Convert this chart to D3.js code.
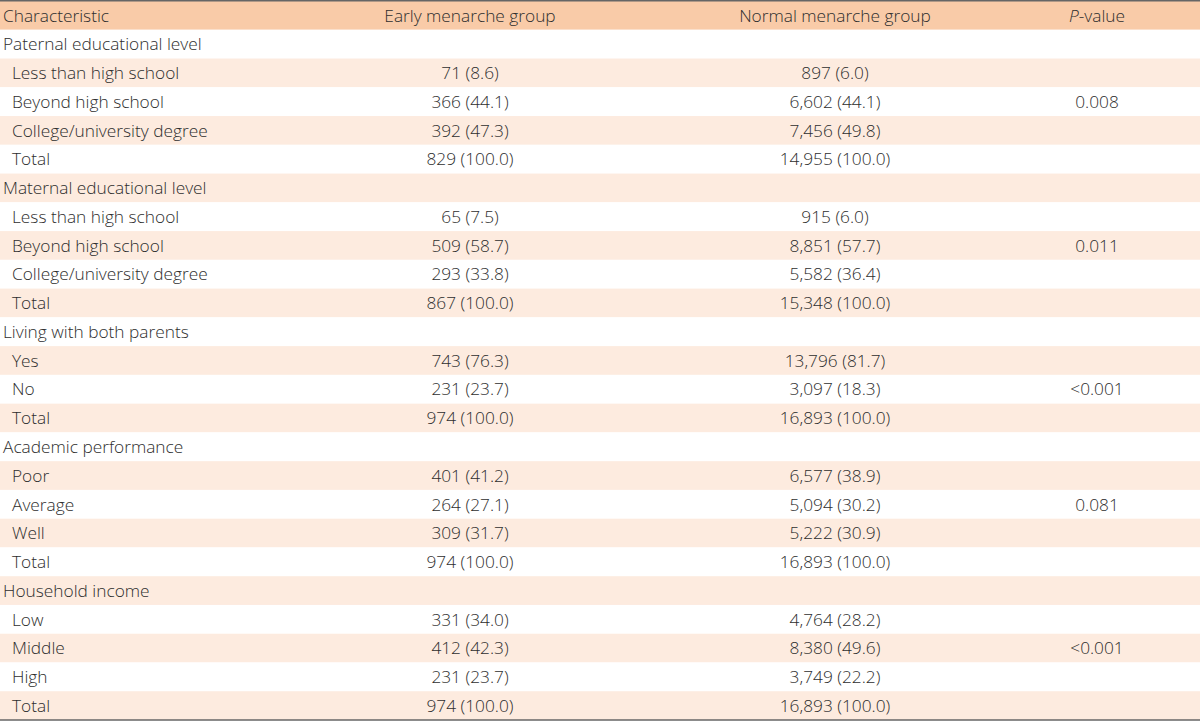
<!DOCTYPE html>
<html>
<head>
<meta charset="utf-8">
<script src="https://cdn.jsdelivr.net/npm/d3@7"></script>
<style>
  body { margin: 0; background: #fff; }
  svg text { font-family: "Open Sans", sans-serif; font-size: 17.3px; font-weight: 300; fill: #2e2e2e; }
</style>
</head>
<body>
<svg id="tbl" width="1200" height="721"></svg>
<script>
var width = 1200, height = 721

var headers = ["Characteristic", "Early menarche group", "Normal menarche group", "P-value"]

var labels = [
  "Paternal educational level", "Less than high school", "Beyond high school", "College/university degree", "Total",
  "Maternal educational level", "Less than high school", "Beyond high school", "College/university degree", "Total",
  "Living with both parents", "Yes", "No", "Total",
  "Academic performance", "Poor", "Average", "Well", "Total",
  "Household income", "Low", "Middle", "High", "Total"
]
// 1 = group heading, 0 = indented sub item
var isGroup = [1,0,0,0,0, 1,0,0,0,0, 1,0,0,0, 1,0,0,0,0, 1,0,0,0,0]

var early = [
  "", "71 (8.6)", "366 (44.1)", "392 (47.3)", "829 (100.0)",
  "", "65 (7.5)", "509 (58.7)", "293 (33.8)", "867 (100.0)",
  "", "743 (76.3)", "231 (23.7)", "974 (100.0)",
  "", "401 (41.2)", "264 (27.1)", "309 (31.7)", "974 (100.0)",
  "", "331 (34.0)", "412 (42.3)", "231 (23.7)", "974 (100.0)"
]
var normal = [
  "", "897 (6.0)", "6,602 (44.1)", "7,456 (49.8)", "14,955 (100.0)",
  "", "915 (6.0)", "8,851 (57.7)", "5,582 (36.4)", "15,348 (100.0)",
  "", "13,796 (81.7)", "3,097 (18.3)", "16,893 (100.0)",
  "", "6,577 (38.9)", "5,094 (30.2)", "5,222 (30.9)", "16,893 (100.0)",
  "", "4,764 (28.2)", "8,380 (49.6)", "3,749 (22.2)", "16,893 (100.0)"
]
var pvalues = [
  "", "", "0.008", "", "",
  "", "", "0.011", "", "",
  "", "", "<0.001", "",
  "", "", "0.081", "", "",
  "", "", "<0.001", "", ""
]

var rows = labels.map(function(d, i) {
  return { label: d, group: isGroup[i], early: early[i], normal: normal[i], p: pvalues[i] }
})

var svg = d3.select("#tbl")

var y = d3.scaleBand().domain(d3.range(rows.length + 1)).range([1, 720])
var colX = [3, 470, 835, 1097]

// header
svg.append("rect").attr("x", 0).attr("y", y(0)).attr("width", width).attr("height", y.bandwidth())
  .style("fill", "#f9cba8")

// stripes
svg.selectAll("rect.stripe")
  .data(rows)
  .enter()
  .append("rect")
  .attr("class", "stripe")
  .attr("x", 0)
  .attr("y", (d, i) => y(i + 1))
  .attr("width", width)
  .attr("height", y.bandwidth())
  .style("fill", (d, i) => (i + 1) % 2 == 0 ? "#fdebdf" : "#ffffff")

// header text
var ht = svg.selectAll("text.head")
  .data(headers)
  .enter()
  .append("text")
  .attr("class", "head")
  .attr("x", (d, i) => colX[i])
  .attr("y", y(0) + y.bandwidth() / 2)
  .attr("dy", "0.36em")
  .attr("text-anchor", (d, i) => i == 0 ? "start" : "middle")

ht.filter((d, i) => i != 3).text(d => d)
var pv = ht.filter((d, i) => i == 3)
pv.append("tspan").style("font-style", "italic").text("P")
pv.append("tspan").text("-value")

// body
var g = svg.selectAll("g.row")
  .data(rows)
  .enter()
  .append("g")
  .attr("class", "row")
  .attr("transform", (d, i) => "translate(0," + (y(i + 1) + y.bandwidth() / 2) + ")")

g.append("text").attr("x", d => d.group ? colX[0] : 12).attr("dy", "0.36em").text(d => d.label)
g.append("text").attr("x", colX[1]).attr("dy", "0.36em").attr("text-anchor", "middle").text(d => d.early)
g.append("text").attr("x", colX[2]).attr("dy", "0.36em").attr("text-anchor", "middle").text(d => d.normal)
g.append("text").attr("x", colX[3]).attr("dy", "0.36em").attr("text-anchor", "middle").text(d => d.p)

// rules
svg.append("line").attr("x1", 0).attr("x2", width).attr("y1", 0.75).attr("y2", 0.75)
  .style("stroke", "#666").style("stroke-width", 1.5)
svg.append("line").attr("x1", 0).attr("x2", width).attr("y1", 720).attr("y2", 720)
  .style("stroke", "#666").style("stroke-width", 1.5)
</script>
</body>
</html>
